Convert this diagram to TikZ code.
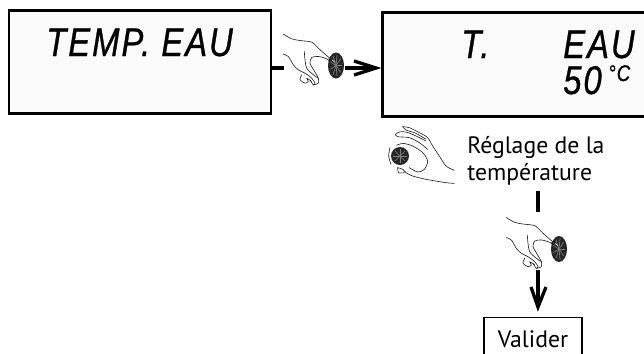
\documentclass[tikz,border=0pt]{standalone}
\usepackage{fontspec}
\setmainfont{PT Sans}
\newfontfamily\lcdfont[LetterSpace=5,FakeStretch=0.82,FakeBold=0.8]{Liberation Sans}
\begin{document}
\begin{tikzpicture}[x=0.75pt,y=-0.75pt,
  screen/.style={draw=black,fill=black!2,line width=2.2pt,inner sep=0pt},
  lcd/.style={inner sep=0pt,text depth=0pt,font=\lcdfont\itshape\fontsize{30}{30}\selectfont,anchor=base west},
  lcdsmall/.style={inner sep=0pt,text depth=0pt,font=\lcdfont\itshape\fontsize{17}{17}\selectfont,anchor=base west},
  label/.style={inner sep=0pt,font=\fontsize{17.8}{22}\selectfont,anchor=base west},
  conn/.style={line width=2.5pt},
  sketch/.style={line width=0.45pt,draw=black!90,line cap=round,line join=round},
  knobspoke/.style={line width=0.5pt,draw=black!50},
  press/.pic={
    \begin{scope}[scale=1/3]
      \draw[sketch] plot[smooth] coordinates {(-158,-94) (-133,-80) (-108,-75) (-73,-70) (-53,-52) (-33,-34) (-3,-9)};
      \draw[sketch] plot[smooth] coordinates {(-158,-34) (-143,-27) (-128,-2) (-113,13) (-93,23) (-73,38) (-63,53) (-68,58) (-78,43)};
      \draw[sketch] plot[smooth] coordinates {(-2,-2) (-28,-20) (-53,-27) (-73,-24) (-78,-7) (-70,8) (-60,25) (-53,38) (-53,53) (-68,58)};
      \draw[sketch] plot[smooth] coordinates {(-95,-42) (-93,-17) (-88,8) (-68,28) (-53,38)};
      \draw[sketch] plot[smooth] coordinates {(-103,28) (-108,43) (-93,53) (-83,48) (-88,38) (-73,48)};
      \fill[black!85] (0,0) ellipse (24 and 39);
      \foreach \a in {0,40,...,320} \draw[knobspoke] (0,0) -- (\a:18 and 32);
      \draw[sketch,line width=0.5pt,draw=white] (-3,-9) -- (-12,-17);
      \draw[sketch] (-3,-6) -- (-22,-20);
    \end{scope}
  },
  turn/.pic={
    \begin{scope}[scale=1/3]
      \draw[sketch] plot[smooth] coordinates {(8,-88) (28,-85) (58,-70) (83,-55) (98,-30) (118,0) (138,30) (163,43)};
      \draw[sketch] plot[smooth] coordinates {(8,-88) (18,-78) (48,-68) (78,-50)};
      \draw[sketch] plot[smooth] coordinates {(-14,-65) (-2,-72) (18,-72) (48,-60) (78,-45)};
      \draw[sketch] plot[smooth] coordinates {(-14,-65) (-7,-58) (28,-55) (58,-40) (83,-20)};
      \draw[sketch] plot[smooth] coordinates {(-10,-32) (8,-38) (38,-30) (68,-10) (83,15) (73,40) (53,48) (28,35)};
      \draw[sketch] plot[smooth] coordinates {(-7,35) (8,40) (18,50) (38,60) (78,70) (138,80) (163,82)};
      \draw[sketch] plot[smooth] coordinates {(-7,35) (-4,50) (13,50)};
      \draw[sketch] plot[smooth] coordinates {(-30,-25) (-34,0) (-27,25)};
      \fill[black!85] (0,0) circle (27);
      \foreach \a in {0,45,...,315} \draw[knobspoke] (0,0) -- (\a:22);
    \end{scope}
  }]
\useasboundingbox (0,0) rectangle (644,354);
\clip (0,0) rectangle (644,354);

\node[screen,minimum width=196.5pt,minimum height=77.5pt] (screenA) at (140,62) {};
\node[screen,minimum width=200pt,minimum height=78pt] (screenB) at (516,64.5) {};
\node[draw=black,line width=1pt,inner sep=0pt,minimum width=73.5pt,minimum height=32pt,font=\fontsize{17.8}{22}\selectfont] (valider) at (533,339) {Valider};

\node[lcd] (tempeau) at (46,56) {TEMP. EAU};
\node[lcd] (tdot) at (461,58) {T.};
\node[lcd] (eau) at (563,58) {EAU};
\node[lcd] (fifty) at (563,94) {50};
\node[lcdsmall] (degc) at (608,81) {°C};
\node[label] (reglage) at (467,153) {Réglage de la};
\node[label] (temperature) at (467,180) {température};

\pic at (336,65.5) {press};
\pic at (559,249) {press};
\pic at (400,156) {turn};

\coordinate (handAin) at (284,68);
\coordinate (handAout) at (345,68);
\coordinate (labelOut) at (538,191);
\coordinate (handBin) at (538,212);
\coordinate (handBout) at (538,270);
\coordinate (arrowTipB) at (538,307);
\coordinate (arrowTipA) at (376,68);

\draw[conn] (screenA.east |- handAin) -- (handAin);
\draw[conn] (handAout) -- (arrowTipA);
\draw[conn,line join=miter] (354,61) -- (arrowTipA) -- (354,75);
\draw[conn] (labelOut) -- (handBin);
\draw[conn] (handBout) -- (arrowTipB);
\draw[conn,line join=miter] (531,287) -- (arrowTipB) -- (546,287);
\end{tikzpicture}
\end{document}
